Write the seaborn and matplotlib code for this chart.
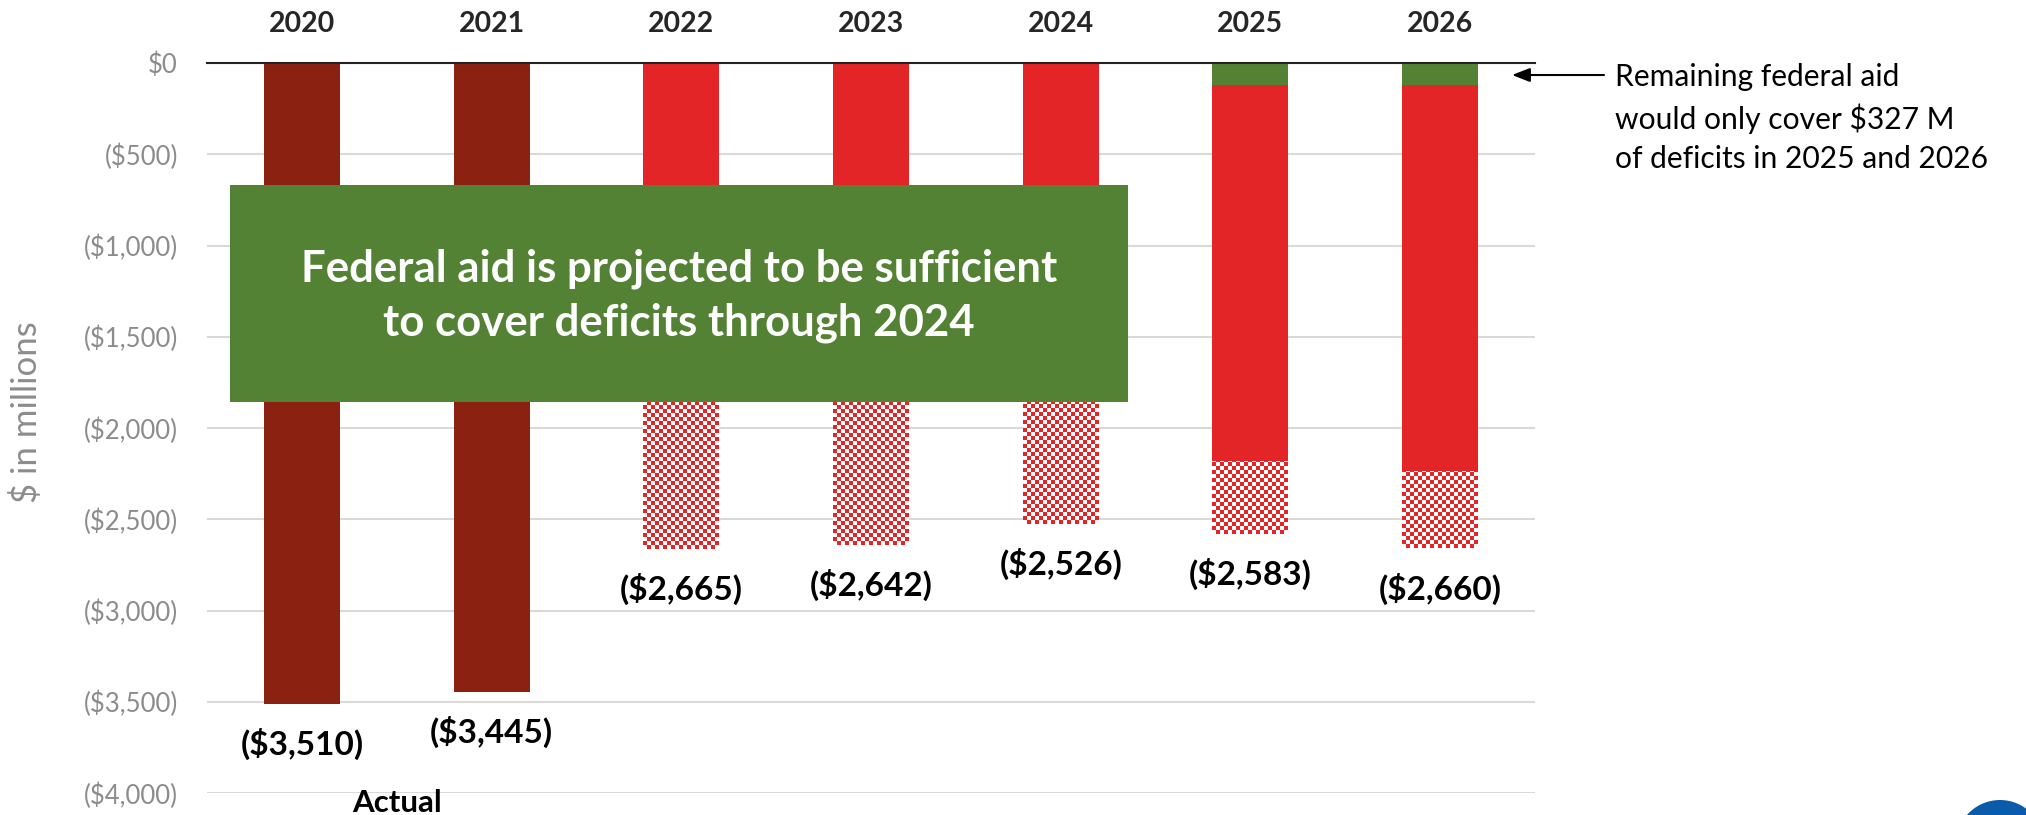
import numpy as np
import pandas as pd
import matplotlib
matplotlib.use("Agg")
import matplotlib.pyplot as plt
import seaborn as sns
from matplotlib.patches import Rectangle, Circle
from matplotlib.colors import ListedColormap
from matplotlib.transforms import IdentityTransform

# ---------------- data ----------------
years = ["2020", "2021", "2022", "2023", "2024", "2025", "2026"]
actual_years = ["2020", "2021"]
actual_deficit = [-3510, -3445]
proj_years = ["2022", "2023", "2024", "2025", "2026"]
proj_total = [-2665, -2642, -2526, -2583, -2660]
proj_solid = [-1800, -1800, -1800, -2183, -2233]
aid_years = ["2025", "2026"]
aid_remaining = [-120, -120]
label_values = [-3510, -3445, -2665, -2642, -2526, -2583, -2660]
ytick_values = [0, -500, -1000, -1500, -2000, -2500, -3000, -3500, -4000]
ytick_labels = ["$0", "($500)", "($1,000)", "($1,500)", "($2,000)",
                "($2,500)", "($3,000)", "($3,500)", "($4,000)"]
box_text = "Federal aid is projected to be sufficient\nto cover deficits through 2024"
note_text = "Remaining federal aid\nwould only cover $327 M\nof deficits in 2025 and 2026"

# ---------------- style ----------------
DARK_RED = "#8B2111"
RED = "#E32527"
GREEN = "#548235"
GRAY = "#8C8C8C"

sns.set_theme(style="white")
plt.rcParams["font.family"] = ["Lato", "DejaVu Sans"]

W, H = 2026, 815
fig = plt.figure(figsize=(W / 100, H / 100), dpi=100)
ax = fig.add_axes([207 / W, 1 - 793 / H, (1535 - 207) / W, (793 - 63) / H])

df_act = pd.DataFrame({"year": actual_years, "value": actual_deficit})
df_tot = pd.DataFrame({"year": proj_years, "value": proj_total})
df_sol = pd.DataFrame({"year": proj_years, "value": proj_solid})
df_aid = pd.DataFrame({"year": aid_years, "value": aid_remaining})

common = dict(x="year", y="value", order=years, width=0.4, saturation=1,
              linewidth=0, ax=ax, errorbar=None)
sns.barplot(data=df_act, color=DARK_RED, **common)
sns.barplot(data=df_tot, color="white", **common)
hatched = ax.containers[-1]
sns.barplot(data=df_sol, color=RED, **common)
sns.barplot(data=df_aid, color=GREEN, **common)

ax.set_xlim(-0.5, len(years) - 0.5)
ax.set_ylim(ytick_values[-1], ytick_values[0])

# checkerboard fill for the projected-range bars
cmap = ListedColormap(["white", RED])
for patch in hatched.patches:
    bb = patch.get_bbox()
    p0 = ax.transData.transform((bb.x0, bb.y0))
    p1 = ax.transData.transform((bb.x1, bb.y1))
    nx = max(1, int(round(abs(p1[0] - p0[0]) / 4)))
    ny = max(1, int(round(abs(p1[1] - p0[1]) / 4)))
    grid = (np.add.outer(np.arange(ny), np.arange(nx)) % 2).astype(float)
    im = ax.imshow(grid, extent=[bb.x0, bb.x1, bb.y0, bb.y1], cmap=cmap,
                   interpolation="nearest", aspect="auto", origin="upper",
                   zorder=patch.get_zorder() + 0.01)
    im.set_clip_path(patch)
for c in ax.containers[-2:]:
    for p in c.patches:
        p.set_zorder(p.get_zorder() + 0.1)

ax.set_xlim(-0.5, len(years) - 0.5)
ax.set_ylim(ytick_values[-1], ytick_values[0])

# axes styling
ax.set_yticks(ytick_values)
ax.set_yticklabels(ytick_labels)
ax.tick_params(axis="y", length=0, pad=21, labelsize=18.5, labelcolor=GRAY)
ax.xaxis.tick_top()
ax.tick_params(axis="x", length=0, pad=19, labelsize=20.5)
for lab in ax.get_xticklabels():
    lab.set_fontweight("bold")
ax.set_xlabel("")
ax.set_ylabel("$ in millions", fontsize=25, color=GRAY)
ax.yaxis.label.set_va("center")
ax.yaxis.set_label_coords(-(207 - 27) / (1535 - 207), 1 - (412 - 63) / (793 - 63))
ax.grid(axis="y", color="#D9D9D9", linewidth=1.5)
ax.set_axisbelow(True)
for side in ["left", "right", "bottom"]:
    ax.spines[side].set_visible(False)
ax.spines["top"].set_color("#222222")
ax.spines["top"].set_linewidth(1.5)

# value labels under bars
for i, v in enumerate(label_values):
    ax.annotate(f"(${abs(v):,})", xy=(i, v), xytext=(0, -40),
                textcoords="offset pixels", ha="center", va="center",
                fontsize=24, fontweight="bold", color="black",
                annotation_clip=False)

ax.annotate("Actual", xy=(0.5, ytick_values[-1]), xytext=(0, -10),
            textcoords="offset pixels", ha="center", va="center",
            fontsize=22.5, fontweight="bold", color="black",
            annotation_clip=False)

# green callout box
fig.add_artist(Rectangle((230 / W, 1 - 402 / H), (1128 - 230) / W, (402 - 185) / H,
                         transform=fig.transFigure, facecolor=GREEN,
                         edgecolor="none", zorder=5))
fig.text(679 / W, 1 - 296 / H, box_text, ha="center", va="center",
         fontsize=31.5, fontweight="bold", color="white", linespacing=1.42,
         zorder=6)

# arrow note
ax.annotate("", xy=(1512, H - 75), xycoords="figure pixels",
            xytext=(1604, H - 75), textcoords="figure pixels",
            arrowprops=dict(arrowstyle="-|>,head_length=0.9,head_width=0.35",
                            color="black", lw=1.5, shrinkA=0, shrinkB=0),
            annotation_clip=False)
fig.text(1615 / W, 1 - 63 / H, note_text, ha="left", va="top",
         fontsize=21.6, color="black", linespacing=1.49)

# partial logo mark at bottom-right corner
fig.add_artist(Circle((2000, H - 844), 44, transform=IdentityTransform(),
                      facecolor="#0A5BAA", edgecolor="none", zorder=7))

fig.savefig("out.png", dpi=100)
